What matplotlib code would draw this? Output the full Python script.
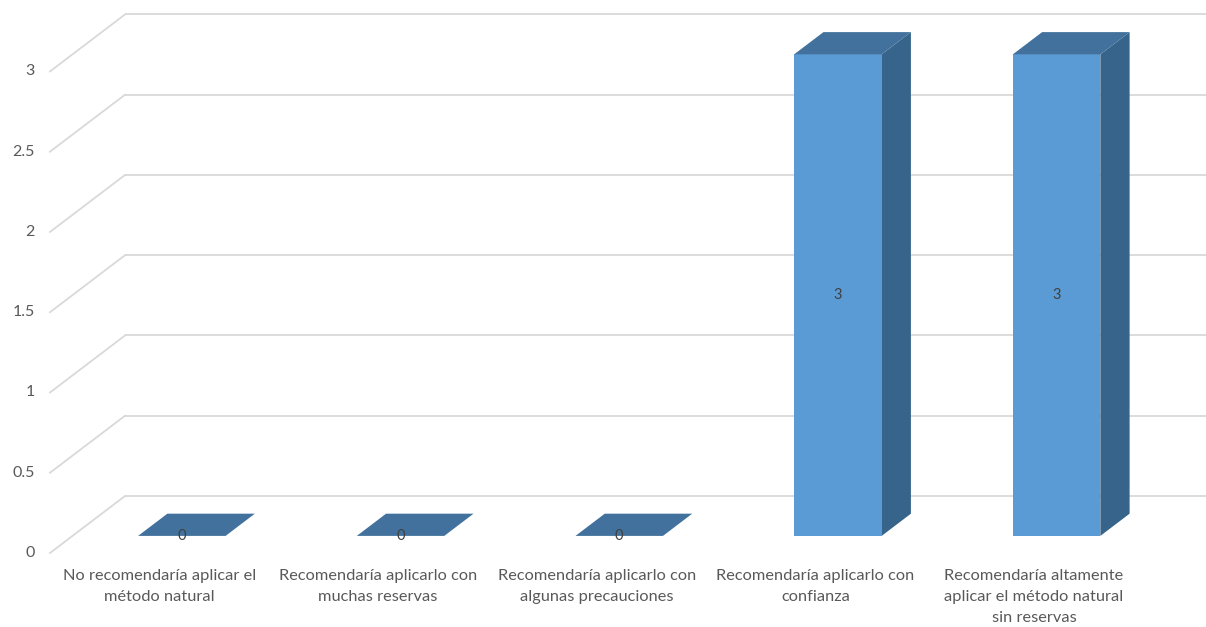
import matplotlib
matplotlib.use("Agg")
import matplotlib.pyplot as plt
from matplotlib.patches import Polygon

# ---- data ----
categories = [
    "No recomendaría aplicar el\nmétodo natural",
    "Recomendaría aplicarlo con\nmuchas reservas",
    "Recomendaría aplicarlo con\nalgunas precauciones",
    "Recomendaría aplicarlo con\nconfianza",
    "Recomendaría altamente\naplicar el método natural\nsin reservas",
]
values = [0, 0, 0, 3, 3]
y_ticks = [0, 0.5, 1, 1.5, 2, 2.5, 3]
y_tick_labels = ["0", "0.5", "1", "1.5", "2", "2.5", "3"]

# ---- style ----
FRONT = "#5B9BD5"
TOP = "#41719C"
SIDE = "#36648B"
GRID = "#D9D9D9"
TEXT = "#595959"
FONT = ["Lato", "DejaVu Sans"]

# oblique projection parameters (data units)
DX = 0.343   # depth shift in category units
DY = 0.355   # depth shift in value units
D0, D1 = 0.30, 0.69   # bar front/back depth fraction
W = 0.40     # bar width (category units)

fig = plt.figure(figsize=(12.06, 6.27), dpi=100)
ax = fig.add_axes([0, 0, 1, 1])
ax.set_xlim(-0.2286, 5.286)
ax.set_ylim(-0.461, 3.445)
ax.axis("off")

n = len(categories)

# back wall gridlines and left wall diagonals
for v in y_ticks:
    ax.plot([DX, n + DX + 0.2], [v + DY, v + DY], color=GRID, lw=1.3,
            solid_capstyle="butt", zorder=1)
    ax.plot([0, DX], [v, v + DY], color=GRID, lw=1.3, zorder=1)

# y tick labels
for v, lab in zip(y_ticks, y_tick_labels):
    ax.text(-0.069, v, lab, ha="right", va="center", color=TEXT,
            fontsize=11.5, family=FONT)

# bars
for i, val in enumerate(values):
    xl = i + 0.5 - W / 2
    xr = i + 0.5 + W / 2
    fx0, fx1 = xl + D0 * DX, xr + D0 * DX
    bx0, bx1 = xl + D1 * DX, xr + D1 * DX
    fy0 = D0 * DY
    by0 = D1 * DY
    top_f = val + fy0
    top_b = val + by0
    if val > 0:
        ax.add_patch(Polygon([(fx1, fy0), (bx1, by0), (bx1, top_b), (fx1, top_f)],
                             closed=True, fc=SIDE, ec="none", zorder=3))
        ax.add_patch(Polygon([(fx0, fy0), (fx1, fy0), (fx1, top_f), (fx0, top_f)],
                             closed=True, fc=FRONT, ec="none", zorder=4))
    ax.add_patch(Polygon([(fx0, top_f), (fx1, top_f), (bx1, top_b), (bx0, top_b)],
                         closed=True, fc=TOP, ec="none", zorder=4))
    # value label at centre of front face
    ax.text((fx0 + fx1) / 2, fy0 + val / 2, f"{val:g}", ha="center", va="center",
            color="#404040", fontsize=10.5, family=FONT, zorder=5)

# category labels
for i, cat in enumerate(categories):
    ax.text(i + 0.5, -0.1, cat, ha="center", va="top", color=TEXT,
            fontsize=11.8, family=FONT, linespacing=1.65)

fig.savefig("out.png", dpi=100)
